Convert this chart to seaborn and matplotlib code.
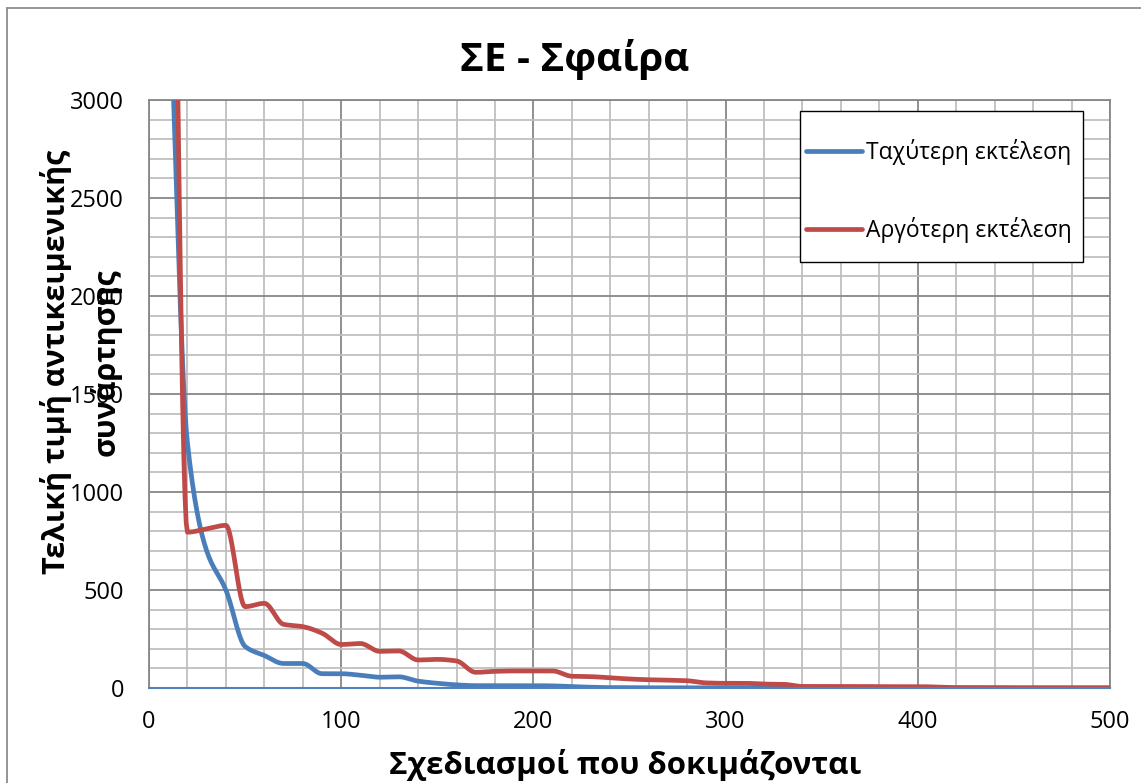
import numpy as np
import pandas as pd
import matplotlib
matplotlib.use("Agg")
import matplotlib.pyplot as plt
from matplotlib.lines import Line2D
from matplotlib.patches import Rectangle
from matplotlib.ticker import MultipleLocator
import seaborn as sns

# Designs tested (evaluation checkpoints)
designs = [10, 20, 30, 40, 50, 60, 70, 80, 90, 100,
           110, 120, 130, 140, 150, 160, 170, 180, 190, 200,
           210, 220, 230, 240, 250, 260, 270, 280, 290, 300,
           310, 320, 330, 340, 350, 360, 370, 380, 390, 400,
           410, 420, 430, 440, 450, 460, 470, 480, 490, 500]

# Best objective value so far – fastest run
fastest = [3800, 1250, 700, 500, 212, 166, 125, 125, 73, 73,
           65, 55, 57, 35, 24, 16, 12, 12, 12, 12,
           11, 7, 4, 2, 2, 1, 1, 1, 1, 1,
           1, 1, 1, 1, 0, 0, 0, 0, 0, 0,
           0, 0, 0, 0, 0, 0, 0, 0, 0, 0]

# Best objective value so far – slowest run
slowest = [6800, 795, 812, 830, 415, 432, 325, 313, 280, 222,
           227, 187, 189, 143, 146, 138, 80, 85, 87, 87,
           87, 60, 58, 52, 46, 42, 40, 37, 26, 24,
           24, 20, 19, 8, 8, 8, 8, 7, 7, 7,
           5, 2, 2, 2, 1, 1, 1, 1, 1, 1]

series_names = ["Ταχύτερη εκτέλεση", "Αργότερη εκτέλεση"]
series_colors = ["#4A7EBB", "#BE4B48"]

title_text = "ΣΕ - Σφαίρα"
xlabel_text = "Σχεδιασμοί που δοκιμάζονται"
ylabel_text = "Τελική τιμή αντικειμενικής\nσυνάρτησης"


def smooth(x, y, n=16):
    """Shape-preserving cubic (Fritsch–Carlson) path through the points."""
    x = np.asarray(x, float)
    y = np.asarray(y, float)
    h = np.diff(x)
    d = np.diff(y) / h
    m = np.zeros_like(y)
    m[0], m[-1] = d[0], d[-1]
    for k in range(1, len(x) - 1):
        if d[k - 1] * d[k] <= 0:
            m[k] = 0.0
        else:
            w1 = 2 * h[k] + h[k - 1]
            w2 = h[k] + 2 * h[k - 1]
            m[k] = (w1 + w2) / (w1 / d[k - 1] + w2 / d[k])
    xs, ys = [], []
    for k in range(len(x) - 1):
        t = np.linspace(0, 1, n, endpoint=False)
        h00 = 2 * t**3 - 3 * t**2 + 1
        h10 = t**3 - 2 * t**2 + t
        h01 = -2 * t**3 + 3 * t**2
        h11 = t**3 - t**2
        xs.append(x[k] + t * h[k])
        ys.append(h00 * y[k] + h10 * h[k] * m[k] + h01 * y[k + 1] + h11 * h[k] * m[k + 1])
    xs.append([x[-1]])
    ys.append([y[-1]])
    return np.concatenate(xs), np.concatenate(ys)


sns.set_style("white")
plt.rcParams["font.family"] = ["Open Sans", "DejaVu Sans"]
plt.rcParams["text.color"] = "black"
plt.rcParams["xtick.color"] = "black"
plt.rcParams["ytick.color"] = "black"

W, H = 1141, 783
fig = plt.figure(figsize=(W / 100, H / 100), dpi=100)
ax = fig.add_axes([149 / W, (H - 688) / H, (1110 - 149) / W, (688 - 100) / H])

LW = 3.4
for vals, name, col in zip([fastest, slowest], series_names, series_colors):
    sx, sy = smooth(designs, vals)
    df = pd.DataFrame({"x": sx, "y": sy})
    sns.lineplot(data=df, x="x", y="y", ax=ax, color=col, lw=LW,
                 sort=False, estimator=None, label=name,
                 solid_capstyle="butt", zorder=3)

ax.set_xlim(0, 500)
ax.set_ylim(0, 3000)
ax.xaxis.set_major_locator(MultipleLocator(100))
ax.xaxis.set_minor_locator(MultipleLocator(20))
ax.yaxis.set_major_locator(MultipleLocator(500))
ax.yaxis.set_minor_locator(MultipleLocator(100))
ax.grid(which="major", color="#878787", lw=1.3, zorder=0)
ax.grid(which="minor", color="#BFBFBF", lw=1.3, zorder=0)
ax.set_axisbelow(True)

for side in ["left", "top", "right"]:
    ax.spines[side].set_color("#878787")
    ax.spines[side].set_linewidth(1.3)
ax.spines["bottom"].set_color("#4F81BD")
ax.spines["bottom"].set_linewidth(1.5)
ax.spines["bottom"].set_zorder(4)

ax.tick_params(which="both", length=0)
ax.tick_params(axis="y", labelsize=17, pad=18)
ax.tick_params(axis="x", labelsize=17, pad=16)
ax.set_xlabel("")
ax.set_ylabel("")

# legend box with white fill over the grid
ax.add_patch(Rectangle((800, 111), 1083 - 800, 262 - 111, transform=None,
                       facecolor="white", edgecolor="black", lw=1.0, zorder=5))
# (patch given in display pixels; convert y since display origin is bottom-left)
box = ax.patches[-1]
box.set_xy((800, H - 262))

leg = ax.legend(loc="upper left",
                bbox_to_anchor=((806 - 149) / 961, (688 - 139) / 588),
                fontsize=16.5, handlelength=2.45, handletextpad=0.15,
                labelspacing=2.25, borderpad=0, borderaxespad=0,
                frameon=False)
leg.set_zorder(6)
for lh in leg.get_lines():
    lh.set_linewidth(LW)
    lh.set_solid_capstyle("round")

fig.text(575 / W, 1 - 60 / H, title_text, ha="center", va="center",
         fontsize=29, fontweight="bold")
fig.text(625 / W, 1 - 765 / H, xlabel_text, ha="center", va="center",
         fontsize=22.5, fontweight="bold")
fig.text(81 / W, 1 - 362 / H, ylabel_text, ha="center", va="center",
         rotation=90, fontsize=22, fontweight="bold", linespacing=1.7,
         multialignment="center")

# outer chart frame (left and top edges)
fig.add_artist(Line2D([7 / W, 7 / W], [0, 1 - 8 / H], color="#8C8C8C", lw=1.3))
fig.add_artist(Line2D([7 / W, 1], [1 - 8 / H, 1 - 8 / H], color="#8C8C8C", lw=1.3))

fig.savefig("out.png", dpi=100)
